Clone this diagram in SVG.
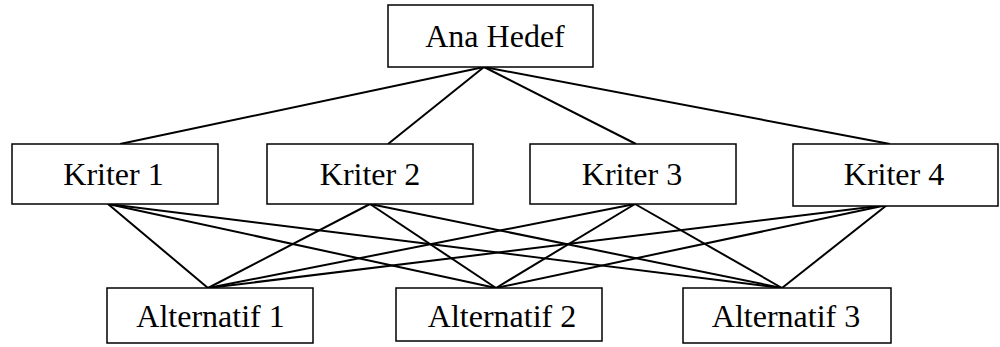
<svg xmlns="http://www.w3.org/2000/svg" width="1000" height="347" viewBox="0 0 1000 347">
  <style>
    .box { fill: #ffffff; stroke: #000000; stroke-width: 1.5; }
    .lbl { font-family: "Liberation Serif", "Times New Roman", serif; font-size: 32px; fill: #000000; text-anchor: middle; }
    .link { stroke: #000000; stroke-width: 2; fill: none; }
  </style>
  <rect width="1000" height="347" fill="#ffffff"/>
  <g id="connectors">
    <!-- goal to criteria -->
    <line class="link" x1="484" y1="67" x2="120" y2="144"/>
    <line class="link" x1="484" y1="67" x2="388" y2="144"/>
    <line class="link" x1="484" y1="67" x2="636" y2="144"/>
    <line class="link" x1="484" y1="67" x2="890" y2="144"/>
    <!-- criteria to alternatives -->
    <line class="link" x1="108" y1="204" x2="208" y2="288"/>
    <line class="link" x1="108" y1="204" x2="496" y2="288"/>
    <line class="link" x1="108" y1="204" x2="782" y2="288"/>
    <line class="link" x1="370" y1="204" x2="208" y2="288"/>
    <line class="link" x1="370" y1="204" x2="496" y2="288"/>
    <line class="link" x1="370" y1="204" x2="782" y2="288"/>
    <line class="link" x1="635" y1="204" x2="208" y2="288"/>
    <line class="link" x1="635" y1="204" x2="496" y2="288"/>
    <line class="link" x1="635" y1="204" x2="782" y2="288"/>
    <line class="link" x1="887" y1="205" x2="208" y2="288"/>
    <line class="link" x1="887" y1="205" x2="496" y2="288"/>
    <line class="link" x1="887" y1="205" x2="782" y2="288"/>
  </g>
  <g id="goal">
    <rect class="box" x="388" y="5" width="205" height="62"/>
    <text class="lbl" x="495" y="47">Ana Hedef</text>
  </g>
  <g id="criterion-1">
    <rect class="box" x="12" y="144" width="206" height="60"/>
    <text class="lbl" x="113.5" y="185">Kriter 1</text>
  </g>
  <g id="criterion-2">
    <rect class="box" x="267" y="144" width="206" height="60"/>
    <text class="lbl" x="370" y="185">Kriter 2</text>
  </g>
  <g id="criterion-3">
    <rect class="box" x="530" y="144" width="206" height="60"/>
    <text class="lbl" x="632" y="185">Kriter 3</text>
  </g>
  <g id="criterion-4">
    <rect class="box" x="793" y="144" width="205" height="62"/>
    <text class="lbl" x="894" y="185">Kriter 4</text>
  </g>
  <g id="alternative-1">
    <rect class="box" x="107" y="288" width="206" height="55"/>
    <text class="lbl" x="210.5" y="327">Alternatif 1</text>
  </g>
  <g id="alternative-2">
    <rect class="box" x="396" y="288" width="206" height="53"/>
    <text class="lbl" x="502" y="327">Alternatif 2</text>
  </g>
  <g id="alternative-3">
    <rect class="box" x="683" y="288" width="208" height="55"/>
    <text class="lbl" x="786" y="327">Alternatif 3</text>
  </g>
</svg>
